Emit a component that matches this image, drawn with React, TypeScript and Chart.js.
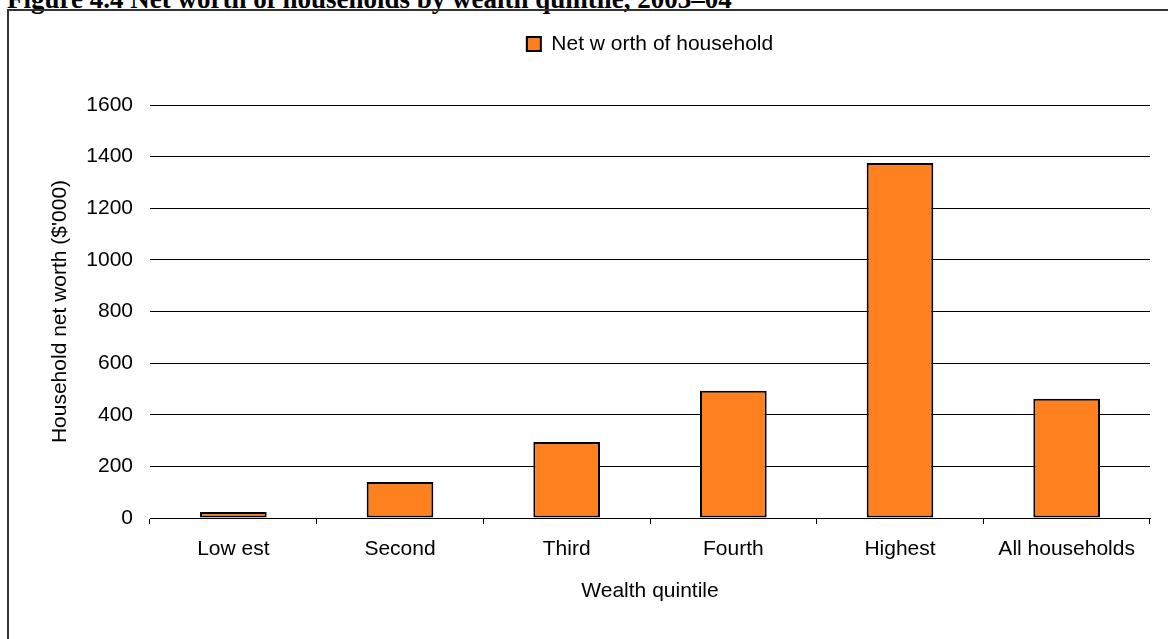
import React, { useEffect, useRef } from "react";
import { Chart, registerables } from "chart.js";

Chart.register(...registerables);

const figureTitle = "Figure 4.4 Net worth of households by wealth quintile, 2003\u201304";
const categories = ["Low est", "Second", "Third", "Fourth", "Highest", "All households"];
const seriesLabel = "Net w orth of household";
const netWorth = [23, 139, 294, 493, 1375, 462];
const yMin = 0;
const yMax = 1600;
const yStep = 200;
const yTitle = "Household net worth ($'000)";
const xTitle = "Wealth quintile";

const FONT = "Arial, 'Liberation Sans', sans-serif";
const FS = 21;

export default function App() {
  const ref = useRef<HTMLCanvasElement | null>(null);

  useEffect(() => {
    if (!ref.current) return;
    const legendSpacer = {
      id: "legendSpacer",
      beforeInit(chart: any) {
        const lg = chart.legend;
        if (!lg) return;
        const orig = lg.fit;
        lg.fit = function () {
          orig.call(this);
          this.height += 40.5;
        };
      },
    };
    const chart = new Chart(ref.current, {
      type: "bar",
      data: {
        labels: categories,
        datasets: [
          {
            label: seriesLabel,
            data: netWorth,
            backgroundColor: "#FF801E",
            borderColor: "#000000",
            borderWidth: 2,
            borderSkipped: false,
            categoryPercentage: 1,
            barPercentage: 0.4,
          },
        ],
      },
      options: {
        responsive: false,
        animation: false,
        layout: { padding: { left: 0, right: 18, top: 0, bottom: 0 } },
        plugins: {
          tooltip: { enabled: false },
          legend: {
            display: true,
            position: "top",
            fullSize: false,
            labels: {
              boxWidth: 14,
              boxHeight: 14,
              padding: 33.5,
              color: "#000",
              font: { family: FONT, size: FS },
            },
          },
        },
        scales: {
          x: {
            type: "category",
            offset: true,
            grid: {
              display: true,
              offset: true,
              drawOnChartArea: false,
              drawTicks: true,
              tickLength: 6,
              color: "#000",
            },
            border: { display: true, color: "#000", width: 1 },
            ticks: {
              color: "#000",
              padding: 12.4,
              maxRotation: 0,
              autoSkip: false,
              font: { family: FONT, size: FS },
            },
            title: {
              display: true,
              text: xTitle,
              color: "#000",
              padding: { top: 0, bottom: 35.4 },
              font: { family: FONT, size: FS },
            },
            afterFit(scale: any) {
              scale.height = 121;
            },
          },
          y: {
            min: yMin,
            max: yMax,
            ticks: {
              stepSize: yStep,
              color: "#000",
              padding: 17,
              font: { family: FONT, size: FS },
              callback: (v: any) => String(v),
            },
            grid: { color: "#000", lineWidth: 1, drawTicks: false },
            border: { display: false },
            title: {
              display: true,
              text: yTitle,
              color: "#000",
              padding: { top: 47.4, bottom: 0 },
              font: { family: FONT, size: FS },
            },
            afterFit(scale: any) {
              scale.width = 150;
            },
          },
        },
      },
      plugins: [legendSpacer],
    });
    return () => chart.destroy();
  }, []);

  return (
    <div
      style={{
        position: "fixed",
        left: 0,
        top: 0,
        width: 1168,
        height: 639,
        overflow: "hidden",
        background: "#fff",
      }}
    >
      <div
        style={{
          position: "absolute",
          left: 7,
          top: -14,
          whiteSpace: "nowrap",
          fontFamily: "'Times New Roman', 'Liberation Serif', serif",
          fontWeight: "bold",
          fontSize: 27,
          lineHeight: "27px",
          color: "#000",
        }}
      >
        {figureTitle}
      </div>
      <div
        style={{
          position: "absolute",
          left: 7,
          top: 9,
          width: 1300,
          height: 800,
          borderLeft: "2px solid #333",
          borderTop: "2px solid #333",
          background: "transparent",
        }}
      />
      <canvas
        ref={ref}
        width={1168}
        height={639}
        style={{ position: "absolute", left: 0, top: 0, width: 1168, height: 639 }}
      />
    </div>
  );
}
